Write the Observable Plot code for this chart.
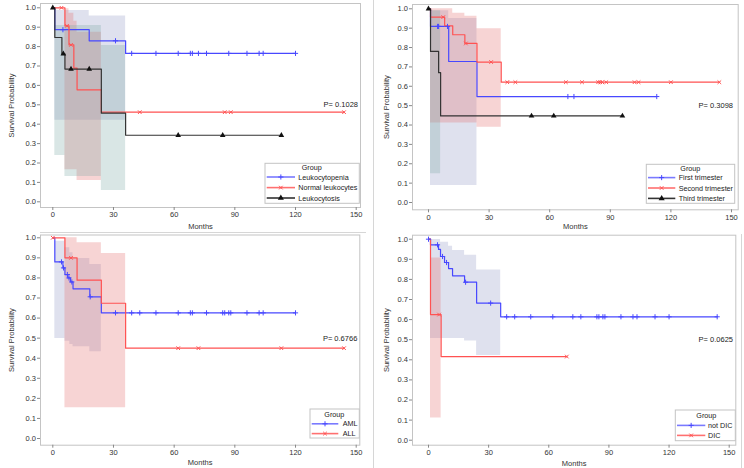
<!DOCTYPE html>
<html><head><meta charset="utf-8">
<script src="https://cdn.jsdelivr.net/npm/d3@7"></script>
<script src="https://cdn.jsdelivr.net/npm/@observablehq/plot@0.6"></script>
<style>
body{margin:0;background:#fff;font-family:"Liberation Sans",Arial,sans-serif;}
#root{position:relative;width:744px;height:468px;overflow:hidden;background:#fff;}
.panel{position:absolute;}
.panel svg{overflow:visible;}
#overlay{position:absolute;left:0;top:0;}
</style></head><body><div id="root"></div>
<script>
// ---------- shared labels ----------
const yTicks = [0, 0.1, 0.2, 0.3, 0.4, 0.5, 0.6, 0.7, 0.8, 0.9, 1.0];
const xTicks = [0, 30, 60, 90, 120, 150];
const xLabel = "Months";
const yLabel = "Survival Probability";
const legendTitle = "Group";

// ---------- Panel 1: leukocyte count ----------
const p1Groups = ["Leukocytopenia", "Normal leukocytes", "Leukocytosis"];
const p1PValue = "P= 0.1028";
const leukopeniaTimes = [0, 1, 18, 36];
const leukopeniaSurv = [1, 0.887, 0.83, 0.765];
const leukopeniaEnd = 120;
const leukopeniaCensor = [5, 31, 39, 51, 62, 68, 69, 72, 76, 87, 96, 102, 104, 120];
const leukopeniaBandTimes = [1, 18, 36];
const leukopeniaBandLo = [0.42, 0.42];
const leukopeniaBandHi = [0.986, 0.958];

const normalTimes = [0, 6, 8, 10.4, 12, 24];
const normalSurv = [1, 0.907, 0.809, 0.689, 0.577, 0.462];
const normalEnd = 144;
const normalCensor = [4.3, 7, 9, 43, 85, 88, 144];
const normalBandTimes = [6, 8, 10.4, 12, 24];
const normalBandLo = [0.165, 0.165, 0.165, 0.11];
const normalBandHi = [0.995, 0.972, 0.931, 0.874];

const leukocytosisTimes = [0, 1, 4.5, 6, 24, 36];
const leukocytosisSurv = [1, 0.847, 0.763, 0.684, 0.457, 0.343];
const leukocytosisEnd = 113;
const leukocytosisCensor = [0, 5.2, 9, 18, 62, 84, 113];
const leukocytosisBandTimes = [1, 6, 24, 36];
const leukocytosisBandLo = [0.239, 0.13, 0.058];
const leukocytosisBandHi = [0.909, 0.909, 0.806];

// ---------- Panel 2: trimester ----------
const p2Groups = ["First trimester", "Second trimester", "Third trimester"];
const p2PValue = "P= 0.3098";
const firstTimes = [0, 1, 10, 24];
const firstSurv = [1, 0.909, 0.728, 0.547];
const firstEnd = 113;
const firstCensor = [4.5, 5, 9.4, 69, 72, 113];
const firstBandTimes = [1, 10, 24];
const firstBandLo = [0.088, 0.088];
const firstBandHi = [0.99, 0.95];

const secondTimes = [0, 1, 8, 12, 18, 24, 36];
const secondSurv = [1, 0.957, 0.912, 0.866, 0.821, 0.725, 0.621];
const secondEnd = 144;
const secondCensor = [7.3, 18.5, 31, 39, 43, 68, 76, 84, 85, 86, 88, 102, 104, 120, 144];
const secondBandTimes = [1, 8, 12, 18, 24, 36];
const secondBandLo = [0.41, 0.41, 0.41, 0.41, 0.389];
const secondBandHi = [1.0, 1.0, 0.977, 0.962, 0.897];

const thirdTimes = [0, 1, 5, 6];
const thirdSurv = [1, 0.78, 0.67, 0.447];
const thirdEnd = 96;
const thirdCensor = [0, 51, 62, 96];
const thirdBandTimes = [1, 5, 6];
const thirdBandLo = [0.148, 0.148];
const thirdBandHi = [0.99, 0.99];

// ---------- Panel 3: leukemia type ----------
const p3Groups = ["AML", "ALL"];
const p3PValue = "P= 0.6766";
const amlTimes = [0, 1, 5, 6, 7.4, 8.7, 10, 18.3, 24];
const amlSurv = [1, 0.88, 0.85, 0.817, 0.80, 0.78, 0.746, 0.706, 0.626];
const amlEnd = 120;
const amlCensor = [4.3, 5.3, 7.2, 8, 9.4, 18.5, 31, 39, 43, 51, 62, 68, 69, 76, 84, 85, 87, 88, 96, 102, 104, 120];
const amlBandTimes = [1, 6, 8.4, 10, 18.3, 24];
const amlBandLo = [0.498, 0.485, 0.468, 0.457, 0.432];
const amlBandHi = [0.983, 0.95, 0.925, 0.897, 0.867];

const allTimes = [0, 6, 12, 24, 36];
const allSurv = [1, 0.9, 0.789, 0.674, 0.45];
const allEnd = 144;
const allCensor = [0, 9, 62, 72, 113, 144];
const allBandTimes = [6, 12, 24, 36];
const allBandLo = [0.153, 0.153, 0.153];
const allBandHi = [1.0, 0.975, 0.922];

// ---------- Panel 4: DIC ----------
const p4Groups = ["not DIC", "DIC"];
const p4PValue = "P= 0.0625";
const noDicTimes = [0, 1, 5, 6, 8, 10, 12, 18, 24, 36];
const noDicSurv = [1, 0.972, 0.949, 0.914, 0.884, 0.854, 0.818, 0.786, 0.682, 0.614];
const noDicEnd = 144;
const noDicCensor = [0, 4.5, 7, 9, 18.5, 31, 39, 43, 51, 62, 72, 76, 84, 85, 87, 88, 96, 102, 104, 113, 120, 144];
const noDicBandTimes = [1, 6, 10, 12, 18, 24, 36];
const noDicBandLo = [0.506, 0.506, 0.506, 0.506, 0.493, 0.421];
const noDicBandHi = [0.998, 0.985, 0.965, 0.944, 0.92, 0.847];

const dicTimes = [0, 1, 6.3];
const dicSurv = [1, 0.625, 0.416];
const dicEnd = 69;
const dicCensor = [5.3, 69];
const dicBandTimes = [1, 6.3];
const dicBandLo = [0.111];
const dicBandHi = [0.907];

// ---------- styles (not data) ----------
const STYLES = [
  {line: "#4848ff", legendLine: "#7a7aff", band: "#7f87bb", bandOp: 0.25, symbol: "plus", fill: "none"},
  {line: "#ff5252", legendLine: "#ff7070", band: "#e47070", bandOp: 0.3, symbol: "times", fill: "none"},
  {line: "#333333", legendLine: "#333333", band: "#77a7a3", bandOp: 0.28, symbol: "triangle", fill: "#111"}
];

function grp(name, times, surv, end, censor, bt, lo, hi, style) {
  return {name, times, surv, end, censor, bt, lo, hi, style};
}
function stepAt(times, surv, t) {
  let v = surv[0];
  for (let i = 0; i < times.length; i++) if (times[i] <= t) v = surv[i];
  return v;
}
function curvePts(g) {
  const pts = g.times.map((t, i) => ({x: t, y: g.surv[i]}));
  pts.push({x: g.end, y: g.surv[g.surv.length - 1]});
  return pts;
}
function censorPts(g) {
  return g.censor.map(t => ({x: t, y: stepAt(g.times, g.surv, t)}));
}
function bandPts(g) {
  const pts = g.lo.map((l, i) => ({x: g.bt[i], lo: l, hi: g.hi[i]}));
  const n = g.lo.length - 1;
  pts.push({x: g.bt[g.bt.length - 1], lo: g.lo[n], hi: g.hi[n]});
  return pts;
}

const panels = [
  {
    groups: [
      grp(p1Groups[0], leukopeniaTimes, leukopeniaSurv, leukopeniaEnd, leukopeniaCensor, leukopeniaBandTimes, leukopeniaBandLo, leukopeniaBandHi, 0),
      grp(p1Groups[1], normalTimes, normalSurv, normalEnd, normalCensor, normalBandTimes, normalBandLo, normalBandHi, 1),
      grp(p1Groups[2], leukocytosisTimes, leukocytosisSurv, leukocytosisEnd, leukocytosisCensor, leukocytosisBandTimes, leukocytosisBandLo, leukocytosisBandHi, 2)
    ],
    pval: p1PValue,
    box: {left: 0, top: 0, width: 366, height: 234},
    frame: {l: 40, r: 360, t: 3, b: 207},
    x0: 52.3, x150: 355.7, y1: 7.3, y0: 201.3,
    xLabOff: 21, yLabOff: 32,
    pPos: {x: 358, y: 104.7},
    legend: {l: 265, r: 359.3, t: 163.3, b: 203.3, titleX: 311.7, titleY: 167.8, rows: [177, 187.6, 198], lx0: 266.7, lx1: 295, tx: 298.3}
  },
  {
    groups: [
      grp(p2Groups[0], firstTimes, firstSurv, firstEnd, firstCensor, firstBandTimes, firstBandLo, firstBandHi, 0),
      grp(p2Groups[1], secondTimes, secondSurv, secondEnd, secondCensor, secondBandTimes, secondBandLo, secondBandHi, 1),
      grp(p2Groups[2], thirdTimes, thirdSurv, thirdEnd, thirdCensor, thirdBandTimes, thirdBandLo, thirdBandHi, 2)
    ],
    pval: p2PValue,
    box: {left: 372, top: 0, width: 372, height: 234},
    frame: {l: 412, r: 737.7, t: 4, b: 209.3},
    x0: 428, x150: 731, y1: 8.3, y0: 202,
    xLabOff: 19.4, yLabOff: 29,
    pPos: {x: 733, y: 105.7},
    legend: {l: 646.3, r: 734.7, t: 164.3, b: 203.3, titleX: 690.3, titleY: 168.6, rows: [177.6, 188, 198.4], lx0: 648, lx1: 675.3, tx: 678.7}
  },
  {
    groups: [
      grp(p3Groups[0], amlTimes, amlSurv, amlEnd, amlCensor, amlBandTimes, amlBandLo, amlBandHi, 0),
      grp(p3Groups[1], allTimes, allSurv, allEnd, allCensor, allBandTimes, allBandLo, allBandHi, 1)
    ],
    pval: p3PValue,
    box: {left: 0, top: 234, width: 366, height: 234},
    frame: {l: 40, r: 359.3, t: 234.5, b: 444.7},
    x0: 52.3, x150: 355.7, y1: 237.3, y0: 438,
    xLabOff: 20, yLabOff: 32,
    pPos: {x: 357.3, y: 338},
    legend: {l: 310, r: 359.3, t: 409, b: 438, titleX: 334.3, titleY: 414.2, rows: [423.8, 433.6], lx0: 311.7, lx1: 338.3, tx: 342.7}
  },
  {
    groups: [
      grp(p4Groups[0], noDicTimes, noDicSurv, noDicEnd, noDicCensor, noDicBandTimes, noDicBandLo, noDicBandHi, 0),
      grp(p4Groups[1], dicTimes, dicSurv, dicEnd, dicCensor, dicBandTimes, dicBandLo, dicBandHi, 1)
    ],
    pval: p4PValue,
    box: {left: 372, top: 234, width: 372, height: 234},
    frame: {l: 412, r: 735.3, t: 234.7, b: 444.7},
    x0: 428, x150: 728.7, y1: 238.7, y0: 439.7,
    xLabOff: 20.5, yLabOff: 29,
    pPos: {x: 733, y: 339.7},
    legend: {l: 675.3, r: 735.3, t: 410, b: 440.7, titleX: 706.3, titleY: 415.5, rows: [425.4, 435.4], lx0: 677, lx1: 705.3, tx: 708}
  }
];

const root = document.getElementById("root");
const FONT = "Liberation Sans, Arial, sans-serif";

for (const P of panels) {
  const {box, frame} = P;
  const kx = (P.x150 - P.x0) / 150;
  const ky = (P.y0 - P.y1);
  const xDomain = [(frame.l - P.x0) / kx, (frame.r - P.x0) / kx];
  const yDomain = [(P.y0 - frame.b) / ky, (P.y0 - frame.t) / ky];
  const marks = [];
  for (const g of P.groups) {
    const s = STYLES[g.style];
    marks.push(Plot.areaY(bandPts(g), {x: "x", y1: "lo", y2: "hi", curve: "step-after", fill: s.band, fillOpacity: s.bandOp}));
  }
  marks.push(Plot.frame({stroke: "#c4c4c4", strokeWidth: 1}));
  for (const g of P.groups) {
    const s = STYLES[g.style];
    marks.push(Plot.line(curvePts(g), {x: "x", y: "y", curve: "step-after", stroke: s.line, strokeWidth: 1.2}));
  }
  for (const g of P.groups) {
    const s = STYLES[g.style];
    marks.push(Plot.dot(censorPts(g), {x: "x", y: "y", symbol: s.symbol, r: s.symbol === "triangle" ? 2.1 : 1.8,
      stroke: s.symbol === "triangle" ? "none" : s.line, fill: s.fill, strokeWidth: 1}));
  }
  marks.push(Plot.axisX({ticks: xTicks, tickSize: 3, tickPadding: 1.5, stroke: "#888", fill: "#333",
    label: xLabel, labelAnchor: "center", labelArrow: "none", labelOffset: P.xLabOff}));
  marks.push(Plot.axisY({ticks: yTicks, tickFormat: d3.format(".1f"), tickSize: 3, tickPadding: 1.5, stroke: "#888", fill: "#333",
    label: yLabel, labelAnchor: "center", labelArrow: "none", labelOffset: P.yLabOff}));

  const chart = Plot.plot({
    width: box.width, height: box.height,
    marginLeft: frame.l - box.left, marginRight: box.left + box.width - frame.r,
    marginTop: frame.t - box.top, marginBottom: box.top + box.height - frame.b,
    x: {domain: xDomain},
    y: {domain: yDomain},
    style: {fontSize: "7.5px", fontFamily: FONT, color: "#333", background: "transparent"},
    marks
  });
  const wrap = document.createElement("div");
  wrap.className = "panel";
  wrap.style.left = box.left + "px";
  wrap.style.top = box.top + "px";
  wrap.appendChild(chart);
  root.appendChild(wrap);
}

// ---------- overlay: separators, p-values, legends ----------
const ov = d3.create("svg").attr("id", "overlay").attr("width", 744).attr("height", 468)
  .style("font-family", FONT).style("font-size", "7.2px");
ov.append("line").attr("x1", 373.5).attr("x2", 373.5).attr("y1", 0).attr("y2", 468).attr("stroke", "#d6d6d6");
ov.append("line").attr("x1", 40).attr("x2", 366).attr("y1", 232.5).attr("y2", 232.5).attr("stroke", "#d6d6d6");
ov.append("line").attr("x1", 741.5).attr("x2", 741.5).attr("y1", 234).attr("y2", 468).attr("stroke", "#d6d6d6");

for (const P of panels) {
  ov.append("text").attr("x", P.pPos.x).attr("y", P.pPos.y).attr("dy", "0.35em")
    .attr("text-anchor", "end").attr("fill", "#222").style("font-size", "7.5px").text(P.pval);
  const L = P.legend;
  ov.append("rect").attr("x", L.l).attr("y", L.t).attr("width", L.r - L.l).attr("height", L.b - L.t)
    .attr("fill", "#fff").attr("stroke", "#c4c4c4");
  ov.append("text").attr("x", L.titleX).attr("y", L.titleY).attr("dy", "0.35em").attr("text-anchor", "middle")
    .attr("fill", "#222").text(legendTitle);
  P.groups.forEach((g, i) => {
    const s = STYLES[g.style];
    const y = L.rows[i];
    ov.append("line").attr("x1", L.lx0).attr("x2", L.lx1).attr("y1", y).attr("y2", y)
      .attr("stroke", s.legendLine).attr("stroke-width", 1.6);
    const cx = (L.lx0 + L.lx1) / 2;
    const sym = {plus: d3.symbolPlus, times: d3.symbolX, triangle: d3.symbolTriangle}[s.symbol];
    const size = s.symbol === "triangle" ? 16 : 10;
    ov.append("path").attr("d", d3.symbol(sym, size)()).attr("transform", `translate(${cx},${y})`)
      .attr("fill", s.symbol === "triangle" ? "#111" : "none")
      .attr("stroke", s.symbol === "triangle" ? "none" : s.line).attr("stroke-width", 1);
    ov.append("text").attr("x", L.tx).attr("y", y).attr("dy", "0.35em").attr("fill", "#222").text(g.name);
  });
}
root.appendChild(ov.node());
</script></body></html>
